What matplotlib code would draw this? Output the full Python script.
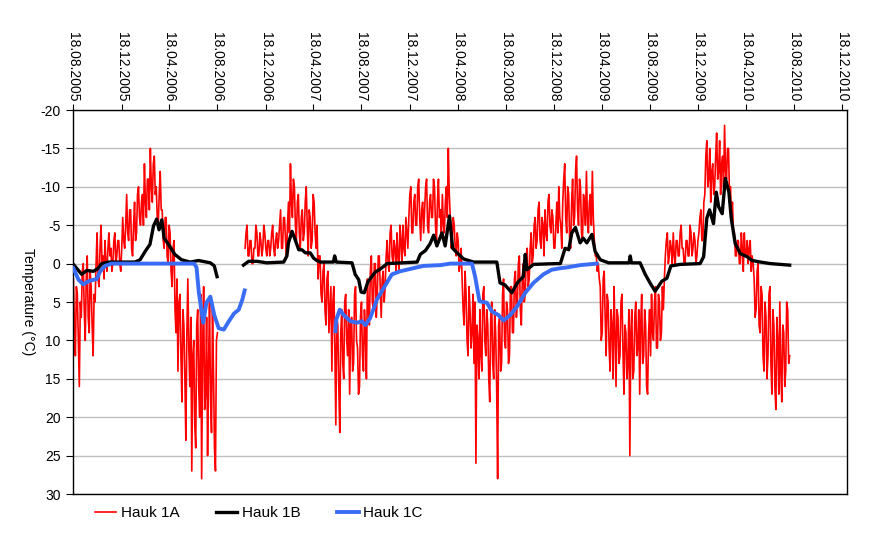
import numpy as np
import pandas as pd
import matplotlib
matplotlib.use('Agg')
import matplotlib.pyplot as plt

plt.rcParams['font.family'] = ['Liberation Sans', 'DejaVu Sans']
plt.rcParams['axes.unicode_minus'] = False

start = pd.Timestamp('2005-08-18')

# Hauk 1A - readings every 2.5 days, two stretches
red_step = 2.5
red1_start = 0
red1 = [2, 8, 12, 3, 4, 10, 16, 5, 7, 1,
        0, 6, 10, 2, -1, 7, 9, 1, 3, 8, 12, 4,
        5, 0, -4, 2, 3, -2, -5, 0,
        -1, 2, -3, 0, 1, -2, -4, -1, -2, 1, 0, -3, -4, 0, -1, -3, -3, 0, 1, -2,
        -6, -3, -2, -5, -9, -4, -3, -7, -7, -2, -1, -5, -8, -3, -4, -9, -10, -6, -5, -8,
        -9, -5, -13, -8, -6, -11, -11, -7, -15, -10, -8, -13, -14, -9, -10, -6, -5, -9, -12, -7,
        -7, -3, -2, -6, -6, -1, 0, -5, -4, 1,
        3, -2, -3, 6, 9, 2, 14, 5,
        4, 12, 18, 6, 8, 15, 23, 9, 2, 11, 16, 7,
        27, 12, 10, 21, 24, 8, 6, 16, 20, 4, 28, 11, 3, 19, 17, 7, 25, 13, 5, 18,
        22, 6, 14, 24, 27, 10, 9]
red2_start = 435
red2 = [-2, -4, -5, -1, -1, -3, -3, 0, 0, -2, -2, -5, -4, -1,
        -1, -4, -3, -1, -2, -5, -4, -2, -1, -3, -3, -1, -2, -4, -5, -2, -1, -3, -4, -2,
        -3, -5, -7, -2, -2, -6, -6, -3, -1, -5, -8, -4,
        -13, -8, -6, -11, -10, -5, -3, -8,
        -9, -4, -2, -6, -7, -3, -4, -8, -10, -5, -1, -7, -6, -2, -3, -9, -8, -4, -2, -5,
        2, -1, -1, 4, 5, 1, 0, 6, 8, 2, 1, 9, 6, 3,
        14, 5, 3, 11, 21, 7, 8, 16, 22, 9,
        6, 13, 15, 5, 4, 10, 12, 6, 17, 8, 7, 14, 13, 4, 3, 10, 11, 17, 16, 7,
        5, 12, 14, 6, 9, 15,
        2, 6, 8, 1, -1, 5, 6, 0, 0, 7, 4, -1, -1, 3, 7, 2, 1, 5, 3, -1,
        -3, 0, 1, -4, -5, -1, 0, -3, -2, 1, -4, -1, 1, -5, -3, 0, -5, -2, -1, -6, -4, -2,
        -6, -9, -10, -4, -4, -8, -9, -5, -5, -10, -11, -6, -3, -7, -8, -4, -7, -10,
        -11, -5, -4, -8, -9, -6, -6, -11, -10, -5, -3, -8, -11, -6, -7, -4,
        -9, -5, -4, -8, -10, -6, -15, -9,
        -6, -2, -3, -6, -5, -2, -1, -4, -3, 1, 0, -2,
        2, 6, 8, 1, 4, 10, 12, 3, 6, 11, 9, 4,
        13, 5, 26, 8, 10, 15,
        6, 12, 14, 4, 3, 10, 12, 6, 8, 15, 18, 7, 5, 13, 15, 6, 9, 16,
        28, 8, 7, 14, 13, 4, 2, 10, 11, 5, 6, 13, 12, 3, 3, 9, 9, 2, 1, 7,
        5, 0, -1, 6, 8, 2, 0, 5, 4, -1, -2, 3, 2, -2,
        -4, 0, -1, -5, -6, -2, -3, -7, -8, -3, -2, -6, -5, -1, -7, -4, -3, -8, -9, -5,
        -4, -7, -6, -2, -2, -5, -8, -4, -10, -6,
        -5, -2, -8, -11,
        -13, -6, -4, -10, -9, -3, -2, -8, -11, -5, -6, -12, -14, -7, -5, -11, -10, -4,
        -3, -9, -8, -5, -12, -6, -4, -8, -9, -5, -12, -6,
        -3, -1, -1, 1, 0, 2,
        3, 10, 9, 2, 1, 7, 12, 4, 5, 11, 14, 6, 8, 15, 3, 9, 16, 6, 7, 13, 12, 5,
        4, 11, 17, 8, 9, 15, 13, 6,
        25, 9, 6, 15, 14, 7, 5, 12, 11, 6, 17, 8, 4, 13, 12, 6, 8, 16, 17, 9, 6, 12,
        4, 9, 10, 5, 3, 11, 11, 4, 5, 10, 9, 3, 6, 2,
        -1, -3, -4, 0, -1, -3,
        -2, 0, -4, -1, 0, -3, -3, -1, -1, -4, -5, -2, -2, 0, 0, -3, -3, -1, -1, -5,
        -4, -1, -2, -4, -3, 0, -1, -3,
        -4, -6, -7, -3, -3, -8,
        -9, -14, -16, -10, -11, -15, -8, -12, -13, -9, -10, -14, -17, -11, -12, -16,
        -9, -13, -14, -10, -18, -12, -11, -15, -15, -9, -10, -6, -8, -4,
        -4, -1, -1, -3, -3, 0, 0, -4, -2, 1, -4, -1, -1, -3, 0, -2, -3, 1, -1, 0,
        2, 7, 6, 1, 0, 8, 9, 3, 4, 12, 14, 5, 7, 15, 12, 4, 3, 13, 17, 6, 8, 16,
        19, 7, 10, 17, 5, 14, 18, 8, 9, 16, 14, 5, 6, 13, 12]

# Hauk 1B (day offsets from start)
b1_days = [0, 21, 34, 51, 63, 72, 89, 156, 169, 182, 194, 203, 211, 217, 224,
           230, 241, 257, 274, 296, 317, 347, 357, 364]
b1_vals = [0.1, 1.4, 0.9, 1.0, 0.6, 0, -0.2, -0.2, -0.5, -1.6, -2.5, -4.9, -5.8,
           -4.4, -5.7, -3.3, -2.5, -1.2, -0.5, -0.2, -0.4, -0.1, 0.3, 1.7]
b2_days = [431, 444, 465, 490, 533, 541, 545, 554, 562, 571, 579, 588, 600, 609,
           617, 626, 659, 662, 666, 706, 714, 723, 729, 737, 746, 756, 765, 778,
           795, 871, 879, 892, 904, 913, 921, 934, 942, 953, 961, 972, 989, 1014,
           1073, 1081, 1094, 1111, 1125, 1140, 1145, 1149, 1166, 1225, 1234, 1246,
           1255, 1263, 1272, 1284, 1292, 1301, 1314, 1322, 1335, 1356, 1408, 1411,
           1414, 1436, 1449, 1461, 1474, 1491, 1504, 1514, 1538, 1588, 1597, 1605,
           1612, 1622, 1629, 1635, 1644, 1652, 1661, 1667, 1677, 1690, 1707, 1720,
           1741, 1766, 1815]
b2_vals = [0.2, -0.3, -0.3, -0.1, -0.2, -1.0, -2.7, -4.2, -3.1, -1.8, -1.8, -1.4,
           -1.4, -0.7, -0.4, -0.2, -0.2, -1.0, -0.2, -0.1, 1.4, 2.1, 3.7, 3.8, 2.4,
           1.7, 1.1, 0.7, 0.0, -0.2, -1.2, -1.7, -2.6, -3.7, -2.3, -4.0, -2.3, -6.2,
           -2.0, -1.4, -0.6, -0.2, -0.2, 2.5, 2.8, 3.8, 2.5, 1.7, -1.2, 0.8, 0.1,
           0.0, 0.0, -2.0, -1.8, -4.0, -4.7, -2.7, -3.3, -2.7, -3.8, -1.6, -0.5,
           -0.1, -0.1, -1.0, -0.1, -0.1, 1.4, 2.5, 3.6, 2.3, 1.9, 0.3, 0.1, 0.0,
           -0.9, -5.9, -7.0, -5.2, -9.3, -7.4, -6.5, -11.1, -9.3, -5.9, -2.6, -1.3,
           -0.9, -0.4, -0.2, 0.0, 0.2]

# Hauk 1C
c1_days = [0, 13, 25, 38, 59, 68, 80, 97, 306, 312, 318, 329, 337, 347, 357,
           368, 381, 394, 407, 419, 428, 434]
c1_vals = [0.6, 2.1, 2.7, 2.3, 2.0, 1.0, 0.3, 0.0, 0.0, 0.5, 3.8, 7.7, 5.1, 4.3,
           6.7, 8.4, 8.6, 7.5, 6.5, 6.0, 4.7, 3.5]
c2_days = [664, 666, 675, 685, 702, 719, 731, 740, 752, 769, 786, 807, 828, 853,
           887, 930, 955, 1010, 1018, 1029, 1048, 1060, 1077, 1090, 1107, 1124,
           1145, 1166, 1191, 1212, 1234, 1250, 1284, 1326]
c2_vals = [8.8, 7.3, 6.0, 6.7, 7.5, 7.7, 7.5, 8.0, 7.1, 4.7, 3.2, 1.4, 1.0, 0.7,
           0.3, 0.2, 0.0, 0.0, 1.7, 4.9, 5.1, 6.2, 6.7, 7.4, 6.7, 5.6, 3.8, 2.5,
           1.4, 0.8, 0.6, 0.5, 0.2, 0.0]

tick_labels = ['18.08.2005', '18.12.2005', '18.04.2006', '18.08.2006',
               '18.12.2006', '18.04.2007', '18.08.2007', '18.12.2007',
               '18.04.2008', '18.08.2008', '18.12.2008', '18.04.2009',
               '18.08.2009', '18.12.2009', '18.04.2010', '18.08.2010',
               '18.12.2010']
series_names = ['Hauk 1A', 'Hauk 1B', 'Hauk 1C']


def to_dates(days):
    return start + pd.to_timedelta(np.asarray(days, dtype=float), unit='D')


def red_dates(first, n):
    return to_dates(first + np.arange(n) * red_step)


fig = plt.figure(figsize=(8.79, 5.47), dpi=100)
ax = fig.add_axes([73 / 879, 1 - 494 / 547, (846.5 - 73) / 879, (494 - 110) / 547])

red_c = '#ff0000'
blk_c = '#000000'
blu_c = '#3a6df5'

l1, = ax.plot(red_dates(red1_start, len(red1)), red1, color=red_c, lw=1.2, zorder=2)
ax.plot(red_dates(red2_start, len(red2)), red2, color=red_c, lw=1.2, zorder=2)
l2, = ax.plot(to_dates(b1_days), b1_vals, color=blk_c, lw=2.4, zorder=3)
ax.plot(to_dates(b2_days), b2_vals, color=blk_c, lw=2.4, zorder=3)
l3, = ax.plot(to_dates(c1_days), c1_vals, color=blu_c, lw=2.8, zorder=4)
ax.plot(to_dates(c2_days), c2_vals, color=blu_c, lw=2.8, zorder=4)

ticks = pd.to_datetime(tick_labels, format='%d.%m.%Y')
ax.set_xlim(pd.Timestamp('2005-08-17'), pd.Timestamp('2010-12-29'))
ax.set_xticks(ticks)
ax.set_xticklabels(tick_labels)
ax.xaxis.tick_top()
ax.tick_params(axis='x', length=4, pad=2, labelsize=10, labelrotation=-90)

ax.set_ylim(30, -20)
yt = list(range(-20, 31, 5))
ax.set_yticks(yt)
ax.set_yticklabels([str(v) for v in yt])
ax.tick_params(axis='y', length=5, pad=4, labelsize=10)
ax.yaxis.grid(True, color='#c0c0c0', lw=1)
ax.set_axisbelow(True)
for s in ax.spines.values():
    s.set_linewidth(1)
    s.set_color('black')

fig.text(28 / 879, 1 - 302 / 547, 'Temperature (°C)', rotation=-90,
         ha='center', va='center', fontsize=10)

fig.legend([l1, l2, l3], series_names, loc='center left',
           bbox_to_anchor=(87 / 879, 1 - 513 / 547), ncol=3, frameon=False,
           handlelength=1.4, handletextpad=0.3, columnspacing=2.4, borderpad=0,
           fontsize=11)

fig.savefig('out.png', dpi=100)
